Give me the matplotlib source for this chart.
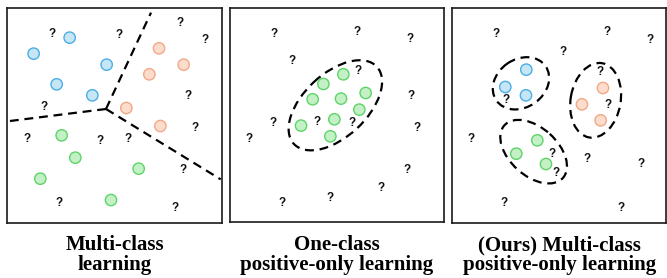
import matplotlib
matplotlib.use('Agg')
import matplotlib.pyplot as plt
from matplotlib.patches import Circle, Ellipse

# panel coordinates are in a 3x-pixel frame of each box (y grows downward)
titles = ['Multi-class\nlearning',
          'One-class\npositive-only learning',
          '(Ours) Multi-class\npositive-only learning']

# panel 1: multi-class learning
p1_blue = [(209, 113), (101, 161), (320, 194), (170, 253), (277, 286)]
p1_orange = [(477, 145), (551, 194), (448, 223), (379, 324), (481, 378)]
p1_green = [(185, 406), (226, 473), (121, 536), (416, 506), (333, 600)]
p1_unknown = [(155, 103), (356, 104), (539, 70), (615, 119), (564, 287),
              (133, 320), (80, 418), (300, 424), (383, 418), (585, 383),
              (550, 509), (177, 608), (525, 625)]
p1_center = (318, 327)
p1_ends = [(453, 38), (30, 363), (662, 538)]

# panel 2: one-class positive-only learning
p2_green = [(355, 223), (295, 252), (263, 298), (348, 296), (422, 279),
            (403, 329), (328, 358), (228, 377), (316, 409)]
p2_unknown = [(147, 103), (395, 97), (555, 117), (202, 182), (400, 212),
              (557, 288), (143, 370), (275, 367), (380, 368), (576, 385),
              (72, 418), (545, 509), (468, 563), (316, 593), (171, 608)]
# (cx, cy, full width, full height, angle)
p2_ellipse = (331, 316, 340, 190, -43)

# panel 3: multi-class positive-only learning
p3_blue = [(244, 209), (181, 261), (243, 286)]
p3_orange = [(474, 264), (411, 313), (467, 361)]
p3_green = [(277, 421), (214, 461), (303, 492)]
p3_unknown = [(153, 103), (485, 95), (616, 119), (353, 156), (465, 217),
              (183, 300), (488, 314), (78, 418), (321, 461), (427, 478),
              (333, 520), (589, 491), (177, 608), (527, 625)]
p3_ellipses = [(228, 250, 180, 144, -35),
               (452, 301, 226, 150, -80),
               (266, 455, 236, 144, 42)]

# box edges of each panel in figure pixels and in local units
boxes_px = [(7.3, 8.3, 221.7, 222.7), (229.7, 8.3, 444.0, 222.3), (452.3, 8.3, 666.3, 222.7)]
boxes_local = [(22, 25, 665, 668), (14, 25, 657, 667), (22, 25, 664, 668)]

colors = {
    'blue': ('#c6e6f6', '#4aaee5'),
    'orange': ('#fcdccc', '#f2a887'),
    'green': ('#c3f0c4', '#5ed46a'),
}
W, H = 667, 278
dash = (0, (4, 2.6))


def add_points(ax, pts, kind):
	face, edge = colors[kind]
	for x, y in pts:
		ax.add_patch(Circle((x, y), 17, facecolor=face, edgecolor=edge, lw=1.0, zorder=3))


def add_unknown(ax, pts):
	for x, y in pts:
		ax.text(x, y, '?', ha='center', va='center', fontsize=8.5, fontweight='bold',
			family='Liberation Sans', color='#111111', zorder=2)


def main():
	fig = plt.figure(figsize=(W / 100, H / 100), dpi=100)
	axes = []
	for (x0, y0, x1, y1), (lx0, ly0, lx1, ly1) in zip(boxes_px, boxes_local):
		ax = fig.add_axes([x0 / W, 1 - y1 / H, (x1 - x0) / W, (y1 - y0) / H])
		ax.set_xlim(lx0, lx1)
		ax.set_ylim(ly1, ly0)
		ax.set_xticks([])
		ax.set_yticks([])
		for sp in ax.spines.values():
			sp.set_linewidth(1.2)
			sp.set_color('#1a1a1a')
		axes.append(ax)

	ax1, ax2, ax3 = axes

	# Panel 1
	for ex, ey in p1_ends:
		ax1.plot([p1_center[0], ex], [p1_center[1], ey], color='black', lw=1.6,
			linestyle=dash, zorder=1)
	add_points(ax1, p1_blue, 'blue')
	add_points(ax1, p1_orange, 'orange')
	add_points(ax1, p1_green, 'green')
	add_unknown(ax1, p1_unknown)

	# Panel 2
	cx, cy, w, h, a = p2_ellipse
	ax2.add_patch(Ellipse((cx, cy), w, h, angle=a, fill=False, edgecolor='black',
		lw=1.6, linestyle=dash, zorder=1))
	add_points(ax2, p2_green, 'green')
	add_unknown(ax2, p2_unknown)

	# Panel 3
	for cx, cy, w, h, a in p3_ellipses:
		ax3.add_patch(Ellipse((cx, cy), w, h, angle=a, fill=False, edgecolor='black',
			lw=1.6, linestyle=dash, zorder=1))
	add_points(ax3, p3_blue, 'blue')
	add_points(ax3, p3_orange, 'orange')
	add_points(ax3, p3_green, 'green')
	add_unknown(ax3, p3_unknown)

	# Captions under the panels, one text per line
	for (x0, y0, x1, y1), t in zip(boxes_px, titles):
		for line, base in zip(t.split('\n'), [250, 270]):
			fig.text((x0 + x1) / 2 / W, 1 - base / H, line, ha='center', va='baseline',
				fontsize=15, fontweight='bold', family='Liberation Serif')

	fig.savefig('out.png', dpi=100)
	plt.close(fig)


if __name__ == '__main__':
	main()
